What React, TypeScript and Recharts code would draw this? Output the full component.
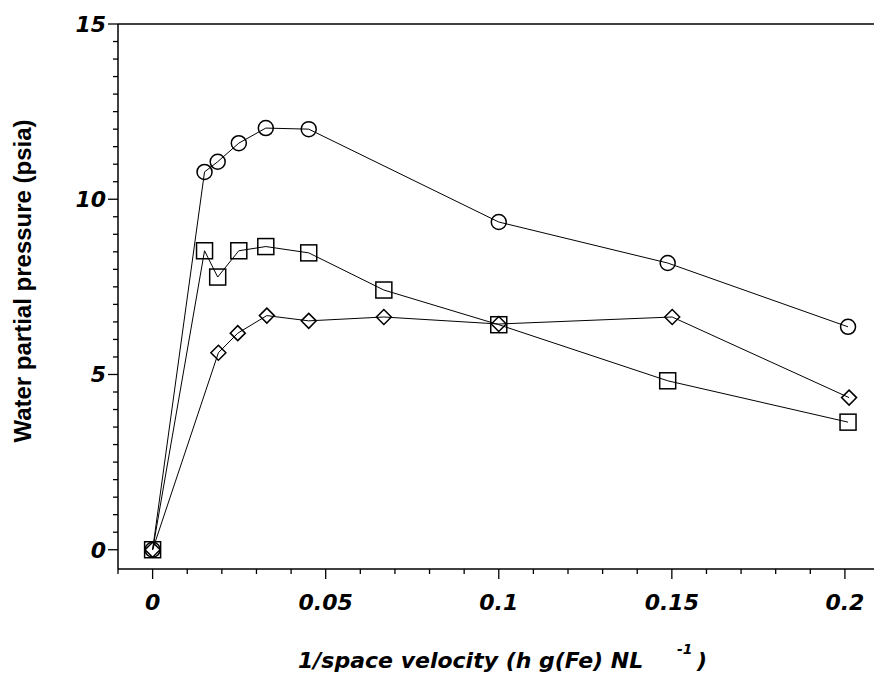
import React from "react";
import {
  LineChart,
  Line,
  XAxis,
  YAxis,
  ReferenceLine,
} from "recharts";

// values
const circleX = [0, 0.015, 0.0188, 0.0249, 0.0327, 0.0451, 0.1, 0.1488, 0.2009];
const circleY = [0, 10.78, 11.07, 11.6, 12.03, 12.0, 9.35, 8.18, 6.36];

const squareX = [0, 0.015, 0.0188, 0.0249, 0.0327, 0.0451, 0.0668, 0.1, 0.1488, 0.2009];
const squareY = [0, 8.53, 7.78, 8.53, 8.65, 8.47, 7.41, 6.42, 4.82, 3.64];

const diamondX = [0, 0.019, 0.0246, 0.0330, 0.0451, 0.0668, 0.1, 0.1501, 0.2012];
const diamondY = [0, 5.62, 6.18, 6.68, 6.53, 6.64, 6.44, 6.64, 4.34];

const xTicks = [
  -0.01, 0, 0.01, 0.02, 0.03, 0.04, 0.05, 0.06, 0.07, 0.08, 0.09, 0.1, 0.11,
  0.12, 0.13, 0.14, 0.15, 0.16, 0.17, 0.18, 0.19, 0.2,
];
const xLabels = ["0", "0.05", "0.1", "0.15", "0.2"];

const yTicks = [
  0, 0.5, 1, 1.5, 2, 2.5, 3, 3.5, 4, 4.5, 5, 5.5, 6, 6.5, 7, 7.5, 8, 8.5, 9,
  9.5, 10, 10.5, 11, 11.5, 12, 12.5, 13, 13.5, 14, 14.5, 15,
];
const yLabels = ["0", "5", "10", "15"];

const toPoints = (xs: number[], ys: number[]) =>
  xs.map((x, i) => ({ x, y: ys[i] }));

const circleData = toPoints(circleX, circleY);
const squareData = toPoints(squareX, squareY);
const diamondData = toPoints(diamondX, diamondY);

const tickFont = {
  fontFamily: "'DejaVu Sans', sans-serif",
  fontWeight: "bold" as const,
  fontStyle: "italic" as const,
  fontSize: 22,
};

function fmt(v: number) {
  return String(Math.round(v * 1000) / 1000);
}

function XTick({ x, y, payload }: any) {
  const label = fmt(payload.value);
  const major = xLabels.includes(label);
  return (
    <g>
      <line x1={x} y1={y} x2={x} y2={y + (major ? 10 : 5)} stroke="#000" strokeWidth={1.3} />
      {major && (
        <text x={x} y={y + 41} textAnchor="middle" fill="#000" {...tickFont}>
          {label}
        </text>
      )}
    </g>
  );
}

function YTick({ x, y, payload }: any) {
  const label = fmt(payload.value);
  const major = yLabels.includes(label);
  return (
    <g>
      <line x1={x} y1={y} x2={x - (major ? 10 : 5)} y2={y} stroke="#000" strokeWidth={1.3} />
      {major && (
        <text x={x - 12} y={y + 8} textAnchor="end" fill="#000" {...tickFont}>
          {label}
        </text>
      )}
    </g>
  );
}

function marker(shape: string) {
  return (props: any) => {
    const { cx, cy, index } = props;
    if (cx == null || cy == null) return <g key={index} />;
    const common = { fill: "none", stroke: "#000", strokeWidth: 1.5 };
    if (shape === "circle") {
      return <circle key={index} cx={cx} cy={cy} r={7.5} {...common} />;
    }
    if (shape === "square") {
      return <rect key={index} x={cx - 8} y={cy - 8} width={16} height={16} {...common} />;
    }
    const d = 7.5;
    return (
      <path
        key={index}
        d={`M${cx},${cy - d}L${cx + d},${cy}L${cx},${cy + d}L${cx - d},${cy}Z`}
        {...common}
      />
    );
  };
}

function XAxisTitle() {
  return (
    <g fill="#000" {...tickFont}>
      <text x={298} y={668}>1/space velocity (h g(Fe) NL</text>
      <text x={677} y={654} fontSize={14}>-1</text>
      <text x={697} y={668}>)</text>
    </g>
  );
}

function YAxisTitle() {
  return (
    <text
      transform="translate(31,281) rotate(-90)"
      textAnchor="middle"
      fill="#000"
      fontFamily="'Liberation Sans', Arial, sans-serif"
      fontWeight="bold"
      fontSize={24}
    >
      Water partial pressure (psia)
    </text>
  );
}

export default function App() {
  return (
    <div style={{ position: "absolute", left: 0, top: 0, background: "#fff" }}>
      <LineChart
        width={874}
        height={676}
        margin={{ top: 24, right: 0, bottom: 0, left: 0 }}
      >
        <XAxis
          type="number"
          dataKey="x"
          domain={[-0.01, 0.2084]}
          ticks={xTicks}
          allowDataOverflow
          interval={0}
          height={107}
          tickSize={0}
          tickMargin={0}
          tick={<XTick />}
          axisLine={{ stroke: "#000", strokeWidth: 1.5 }}
          label={{ content: () => <XAxisTitle /> }}
        />
        <YAxis
          type="number"
          dataKey="y"
          domain={[-0.55, 15]}
          ticks={yTicks}
          allowDataOverflow
          interval={0}
          width={118}
          tickSize={0}
          tickMargin={0}
          tick={<YTick />}
          axisLine={{ stroke: "#000", strokeWidth: 1.5 }}
          label={{ content: () => <YAxisTitle /> }}
        />
        <ReferenceLine y={15} stroke="#000" strokeWidth={1.5} />
        <Line
          data={circleData}
          dataKey="y"
          type="linear"
          stroke="#000"
          strokeWidth={1}
          dot={marker("circle")}
          activeDot={false}
          isAnimationActive={false}
        />
        <Line
          data={squareData}
          dataKey="y"
          type="linear"
          stroke="#000"
          strokeWidth={1}
          dot={marker("square")}
          activeDot={false}
          isAnimationActive={false}
        />
        <Line
          data={diamondData}
          dataKey="y"
          type="linear"
          stroke="#000"
          strokeWidth={1}
          dot={marker("diamond")}
          activeDot={false}
          isAnimationActive={false}
        />
      </LineChart>
    </div>
  );
}
